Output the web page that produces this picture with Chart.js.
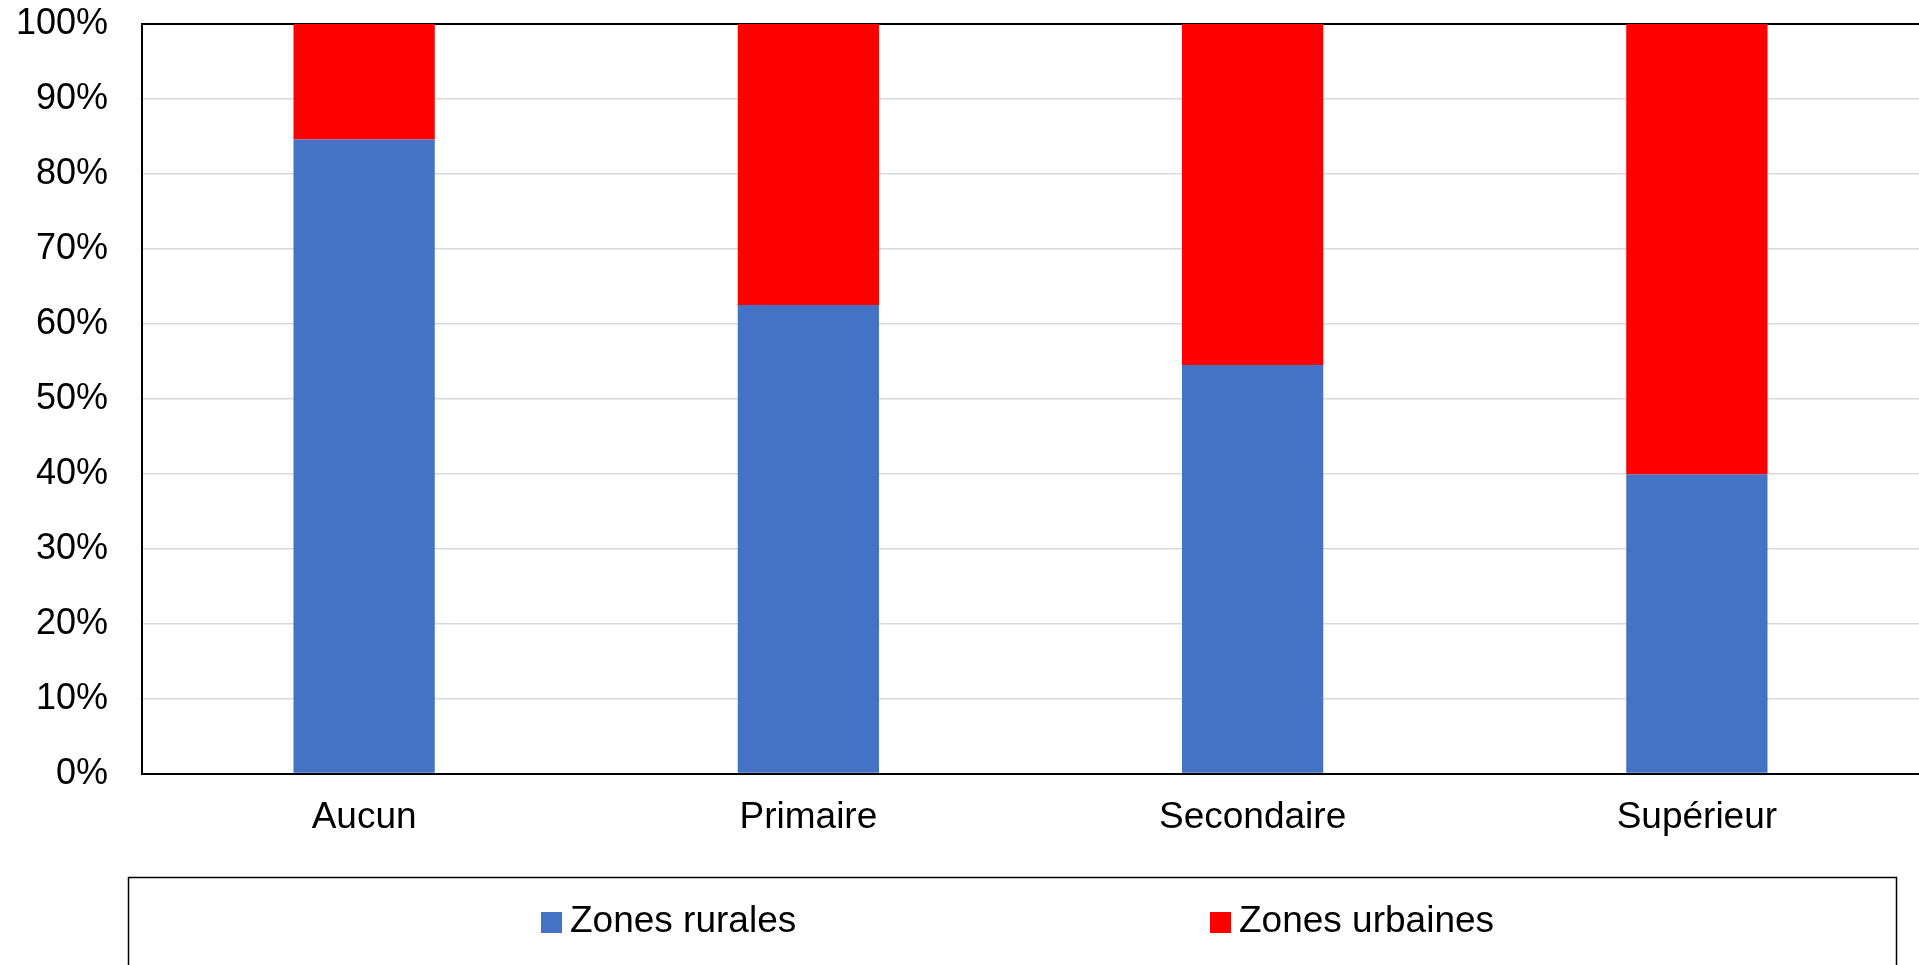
<!DOCTYPE html>
<html>
<head>
<meta charset="utf-8">
<title>Zones rurales / urbaines par niveau d'instruction</title>
<script src="https://cdn.jsdelivr.net/npm/chart.js@4.4.1/dist/chart.umd.min.js"></script>
<style>
    html, body { margin: 0; padding: 0; background: #fff; }
    canvas { display: block; }
</style>
</head>
<body>
<canvas id="myChart" width="1919" height="965"></canvas>
<script>
// Niveaux d'instruction (categories)
const categories = ["Aucun", "Primaire", "Secondaire", "Supérieur"];

// Share of each group, in percent
const rural = [84.6, 62.5, 54.5, 39.9];
const urbain = [15.4, 37.5, 45.5, 60.1];

const seriesNames = ["Zones rurales", "Zones urbaines"];
const seriesColors = ["#4472C4", "#FF0000"];

// Y axis ticks
const yTicks = [0, 10, 20, 30, 40, 50, 60, 70, 80, 90, 100];

const FONT = "'Liberation Sans', Arial, sans-serif";

// Legend in a framed box under the chart, like the original
const boxedLegend = {
    id: "boxedLegend",
    afterDraw(chart) {
        const ctx = chart.ctx;
        ctx.save();
        ctx.strokeStyle = "#000";
        ctx.lineWidth = 1.5;
        ctx.strokeRect(128.5, 877.5, 1768, 200);

        ctx.font = "37px " + FONT;
        ctx.textBaseline = "middle";
        chart.data.datasets.forEach((ds, i) => {
            const x = 541 + i * 669;
            ctx.fillStyle = ds.backgroundColor;
            ctx.fillRect(x, 912, 21, 21);
            ctx.fillStyle = "#000";
            ctx.fillText(ds.label, x + 29, 922);
        });
        ctx.restore();
    }
};

const ctx = document.getElementById("myChart").getContext("2d");

const myChart = new Chart(ctx, {
    type: "bar",
    data: {
        labels: categories,
        datasets: [
            {
                label: seriesNames[0],
                data: rural,
                backgroundColor: seriesColors[0],
                barPercentage: 1,
                categoryPercentage: 0.318
            },
            {
                label: seriesNames[1],
                data: urbain,
                backgroundColor: seriesColors[1],
                barPercentage: 1,
                categoryPercentage: 0.318
            }
        ]
    },
    options: {
        responsive: false,
        animation: false,
        layout: {
            padding: { top: 24, right: 0, bottom: 103, left: 0 }
        },
        plugins: {
            legend: { display: false },
            tooltip: { enabled: false }
        },
        scales: {
            x: {
                stacked: true,
                grid: { display: false, drawTicks: false },
                border: { display: true, color: "#000", width: 2 },
                ticks: {
                    padding: 22,
                    color: "#000",
                    font: { family: FONT, size: 37 }
                }
            },
            y: {
                stacked: true,
                min: 0,
                max: 100,
                afterFit(scale) {
                    scale.width = 142;
                    scale.paddingTop = 0;
                },
                afterBuildTicks(scale) {
                    scale.ticks = yTicks.map(v => ({ value: v }));
                },
                grid: {
                    drawTicks: false,
                    color: c => (c.tick && c.tick.value === 100 ? "#000" : "#d9d9d9"),
                    lineWidth: c => (c.tick && c.tick.value === 100 ? 2 : 1.5)
                },
                border: { display: true, color: "#000", width: 2 },
                ticks: {
                    padding: 34,
                    color: "#000",
                    font: { family: FONT, size: 36 },
                    callback: v => v + "%"
                }
            }
        }
    },
    plugins: [boxedLegend]
});
</script>
</body>
</html>
